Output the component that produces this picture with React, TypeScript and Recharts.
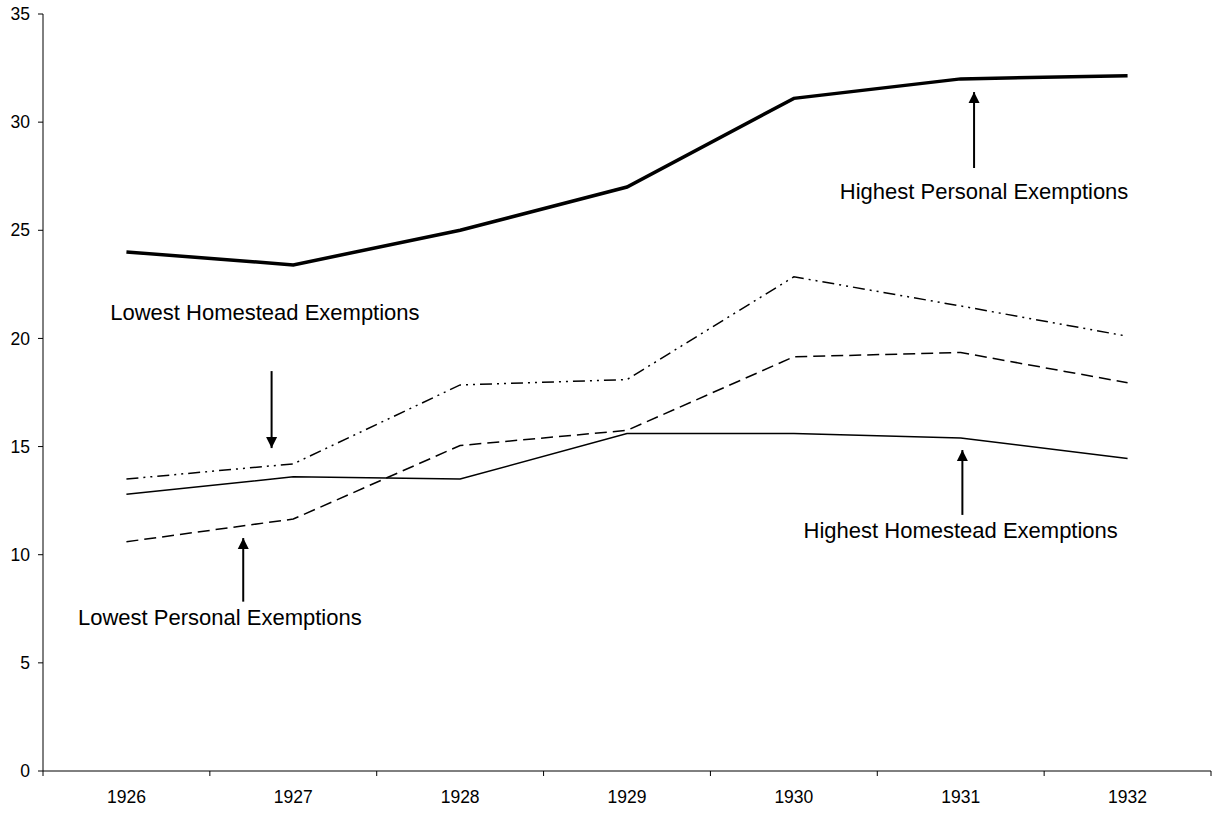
import React from 'react';
import { LineChart, Line, XAxis, YAxis, ReferenceLine, ReferenceDot } from 'recharts';

const years = [1926, 1927, 1928, 1929, 1930, 1931, 1932];
const highestPersonal = [24.0, 23.4, 25.0, 27.0, 31.1, 32.0, 32.15];
const lowestHomestead = [13.5, 14.2, 17.85, 18.1, 22.85, 21.5, 20.1];
const lowestPersonal = [10.6, 11.65, 15.05, 15.75, 19.15, 19.35, 17.95];
const highestHomestead = [12.8, 13.6, 13.5, 15.6, 15.6, 15.4, 14.45];

const yTicks = [0, 5, 10, 15, 20, 25, 30, 35];
const yearBounds = [1925.5, 1926.5, 1927.5, 1928.5, 1929.5, 1930.5, 1931.5, 1932.5];

// annotation: text anchor (x, y) and arrow from -> tip, in data units
const notes = [
  { text: 'Highest Personal Exemptions', x: 1931.14, y: 26.8, ax: 1931.08, from: 27.88, tip: 31.39 },
  { text: 'Lowest Homestead Exemptions', x: 1926.83, y: 21.2, ax: 1926.87, from: 18.49, tip: 14.93 },
  { text: 'Lowest Personal Exemptions', x: 1926.56, y: 7.12, ax: 1926.7, from: 7.83, tip: 10.77 },
  { text: 'Highest Homestead Exemptions', x: 1931.0, y: 11.14, ax: 1931.01, from: 11.84, tip: 14.84 },
];

const data = years.map((year, i) => ({
  year,
  highestPersonal: highestPersonal[i],
  lowestHomestead: lowestHomestead[i],
  lowestPersonal: lowestPersonal[i],
  highestHomestead: highestHomestead[i],
}));

const FONT = '"Liberation Sans", Arial, sans-serif';
const tickStyle = { fontSize: 17.5, fill: '#000', fontFamily: FONT };

const NoteText = (text: string) => (p: any) => (
  <text x={p.cx} y={p.cy} textAnchor="middle" dominantBaseline="central" fontSize={22} fontFamily={FONT} fill="#000">
    {text}
  </text>
);

const ArrowHead = (up: boolean) => (p: any) => {
  const d = up ? 11 : -11;
  return <polygon points={`${p.cx},${p.cy} ${p.cx - 5.5},${p.cy + d} ${p.cx + 5.5},${p.cy + d}`} fill="#000" />;
};

export default function App() {
  return (
    <div style={{ position: 'absolute', left: 0, top: 0, background: '#fff' }}>
      <LineChart width={1212} height={813} data={data} margin={{ top: 14, right: 1, bottom: 0, left: 0 }}>
        {/* tick marks sit between the years, so they get their own axis */}
        <XAxis
          xAxisId="bounds"
          dataKey="year"
          type="number"
          domain={[1925.5, 1932.5]}
          ticks={yearBounds}
          tickFormatter={() => ''}
          tickSize={5}
          height={1}
          stroke="#000"
        />
        <XAxis
          xAxisId="years"
          dataKey="year"
          type="number"
          domain={[1925.5, 1932.5]}
          ticks={years}
          tickLine={false}
          axisLine={false}
          tickSize={5}
          tickMargin={14}
          height={41}
          tick={tickStyle}
        />
        <YAxis
          domain={[0, 35]}
          ticks={yTicks}
          width={43}
          tickSize={5}
          tickMargin={8}
          stroke="#000"
          tick={tickStyle}
        />
        <Line xAxisId="years" dataKey="highestPersonal" stroke="#000" strokeWidth={3.5} dot={false} isAnimationActive={false} />
        <Line xAxisId="years" dataKey="lowestHomestead" stroke="#000" strokeWidth={1.5} strokeDasharray="12 5 2 5 2 5" dot={false} isAnimationActive={false} />
        <Line xAxisId="years" dataKey="lowestPersonal" stroke="#000" strokeWidth={1.5} strokeDasharray="12 6" dot={false} isAnimationActive={false} />
        <Line xAxisId="years" dataKey="highestHomestead" stroke="#000" strokeWidth={1.5} dot={false} isAnimationActive={false} />
        {notes.map((n) => (
          <ReferenceLine
            key={'l' + n.text}
            xAxisId="years"
            segment={[{ x: n.ax, y: n.from }, { x: n.ax, y: n.tip }]}
            stroke="#000"
            strokeWidth={2}
          />
        ))}
        {notes.map((n) => (
          <ReferenceDot key={'a' + n.text} xAxisId="years" x={n.ax} y={n.tip} r={0} shape={ArrowHead(n.tip > n.from)} />
        ))}
        {notes.map((n) => (
          <ReferenceDot key={'t' + n.text} xAxisId="years" x={n.x} y={n.y} r={0} shape={NoteText(n.text)} />
        ))}
      </LineChart>
    </div>
  );
}
